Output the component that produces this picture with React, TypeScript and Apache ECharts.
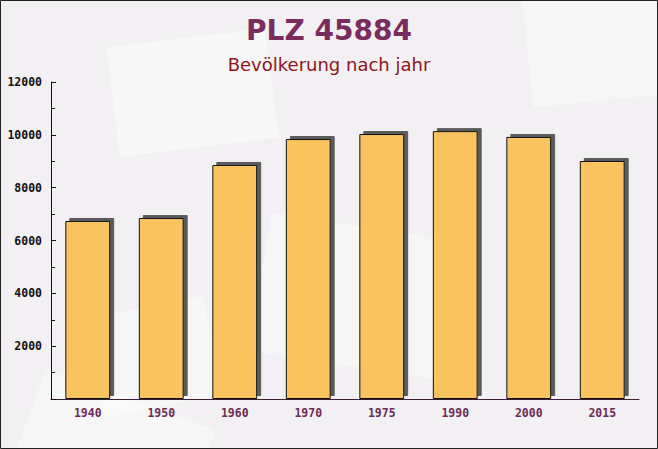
import React, { useEffect, useRef } from "react";
import * as echarts from "echarts";

const categories = ["1940", "1950", "1960", "1970", "1975", "1990", "2000", "2015"];
const population = [6740, 6850, 8860, 9840, 10030, 10140, 9920, 9010];
const titleText = "PLZ 45884";
const subtitleText = "Bevölkerung nach jahr";

export default function App() {
  const ref = useRef<HTMLDivElement>(null);
  useEffect(() => {
    document.body.style.margin = "0";
    const chart = echarts.init(ref.current!, null, { renderer: "svg" });
    chart.setOption({
      animation: false,
      backgroundColor: "#f2f0f2",
      graphic: [
        { type: "rect", shape: { x: 100, y: 60, width: 160, height: 110 }, rotation: 0.12, style: { fill: "rgba(255,255,255,0.45)" }, z: -10 },
        { type: "rect", shape: { x: 300, y: 170, width: 200, height: 140 }, rotation: -0.15, style: { fill: "rgba(255,255,255,0.4)" }, z: -10 },
        { type: "rect", shape: { x: 520, y: 40, width: 140, height: 120 }, rotation: 0.1, style: { fill: "rgba(255,255,255,0.4)" }, z: -10 },
        { type: "rect", shape: { x: 20, y: 330, width: 120, height: 100 }, rotation: 0.2, style: { fill: "rgba(255,255,255,0.4)" }, z: -10 },
        { type: "rect", shape: { x: 170, y: 330, width: 180, height: 120 }, rotation: -0.35, style: { fill: "rgba(255,255,255,0.4)" }, z: -10 },
        { type: "rect", shape: { x: 0.5, y: 0.5, width: 657, height: 448 }, style: { fill: "none", stroke: "#222", lineWidth: 1 }, z: 100 },
      ],
      title: [
        {
          text: titleText,
          left: "center",
          top: 11,
          textStyle: { fontFamily: "DejaVu Sans", fontWeight: "bold", fontSize: 28, color: "#7a2c5e" },
        },
        {
          text: subtitleText,
          left: "center",
          top: 50,
          textStyle: { fontFamily: "DejaVu Sans", fontWeight: "normal", fontSize: 18, color: "#8e1520" },
        },
      ],
      grid: { left: 51, right: 19, top: 82, bottom: 50 },
      xAxis: {
        type: "category",
        data: categories,
        axisLine: { lineStyle: { color: "#3a2030", width: 1 } },
        axisTick: { inside: true, length: 5, lineStyle: { color: "#3a2030" } },
        axisLabel: { margin: 8, fontFamily: "DejaVu Sans Mono", fontWeight: "bold", fontSize: 11.5, color: "#6b2c56" },
      },
      yAxis: {
        type: "value",
        min: 0,
        max: 12000,
        interval: 2000,
        splitLine: { show: false },
        axisLine: { show: true, lineStyle: { color: "#111", width: 1 } },
        axisTick: { show: true, inside: true, length: 5, lineStyle: { color: "#111" } },
        minorTick: { show: true, splitNumber: 2, length: 4, lineStyle: { color: "#111" } },
        axisLabel: {
          margin: 9,
          fontFamily: "DejaVu Sans Mono",
          fontWeight: "bold",
          fontSize: 11.5,
          color: "#111",
          formatter: (v: number) => (v === 0 ? "" : String(v)),
        },
      },
      series: [
        {
          type: "bar",
          data: population,
          barWidth: "61%",
          itemStyle: {
            color: "#f9c35f",
            borderColor: "#111",
            borderWidth: 1,
            shadowColor: "#5a5a5a",
            shadowBlur: 0,
            shadowOffsetX: 4,
            shadowOffsetY: -3,
          },
        },
      ],
    });
    return () => chart.dispose();
  }, []);
  return <div ref={ref} style={{ width: 658, height: 449 }} />;
}
